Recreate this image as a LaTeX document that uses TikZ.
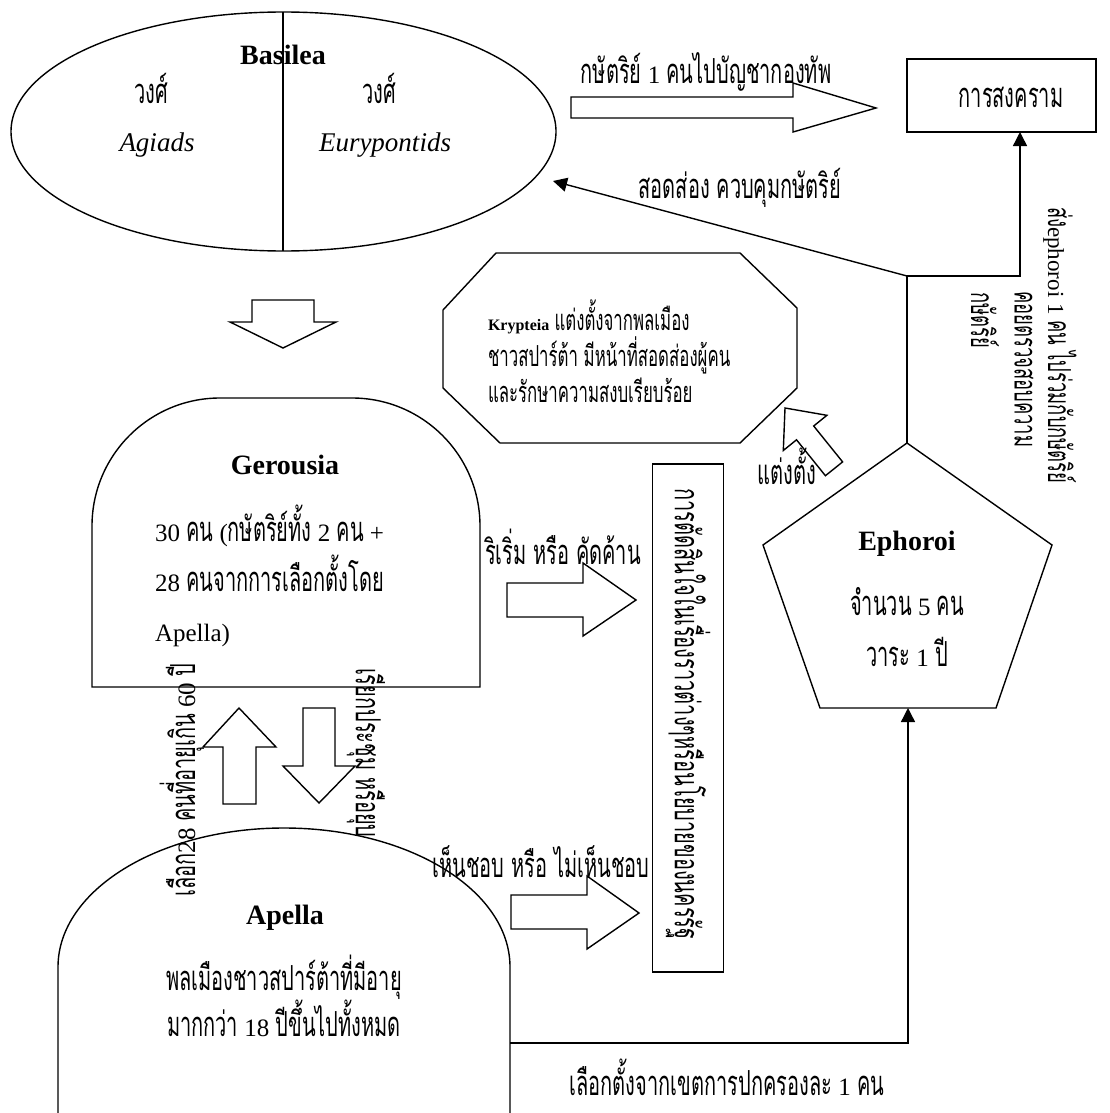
\documentclass[tikz,border=0pt]{standalone}
\usepackage{fontspec}
\setmainfont{Liberation Serif}
\newfontfamily\thf[Script=Thai,FakeStretch=0.58,Scale=1.38]{Loma}
\newcommand\T[1]{{\thf #1}}
\usetikzlibrary{arrows.meta}

\begin{document}
\begin{tikzpicture}[x=1pt,y=-1pt,
  every node/.style={inner sep=0pt, outer sep=0pt},
  shp/.style={draw, line width=1.4pt, fill=white, line join=miter},
  conn/.style={draw, line width=1.4pt},
  tip/.style={-{Triangle[length=14pt,width=14pt]}},
  txt/.style={font=\fontsize{25}{30}\selectfont},
  side/.style={font=\fontsize{23}{28}\selectfont},
  ital/.style={font=\fontsize{27}{30}\selectfont\itshape},
  big/.style={font=\fontsize{28}{32}\selectfont\bfseries},
]
\useasboundingbox (0,0) rectangle (1110,1113);

% ---------- Basilea ----------
\draw[shp] (283.5,131.5) ellipse [x radius=272.5pt, y radius=119.5pt];
\coordinate (bas-top) at (283,12);
\coordinate (bas-bot) at (283,251);
\coordinate (bas-in) at (553,181);
\node[big] (basilea) at (283,55) {Basilea};
\draw[conn] (bas-top) -- (bas-bot);
\node[txt] (wong1) at (151,88) {\T{วงศ์}};
\node[txt] (wong2) at (379,88) {\T{วงศ์}};
\node[ital] (agiads) at (157,145) {Agiads};
\node[ital] (eury) at (385,145) {Eurypontids};

% ---------- war ----------
\node[draw, line width=1.4pt, minimum width=189pt, minimum height=73pt] (war) at (1001.5,95.5) {};
\node[txt] (wartxt) at (1011,97) {\T{การสงคราม}};
\coordinate (war-in) at (1020,132);

% king leads the army
\draw[shp] (571,97) -- (793,97) -- (793,83) -- (876,108) -- (793,132) -- (793,118) -- (571,118) -- cycle;
\node[txt] (armylbl) at (706,72) {\T{กษัตริย์} 1 \T{คนไปบัญชากองทัพ}};

% ---------- Basilea -> Gerousia ----------
\draw[shp] (252,300) -- (314,300) -- (314,322) -- (336,322) -- (283,348) -- (230,322) -- (252,322) -- cycle;

% ---------- Krypteia ----------
\draw[shp] (496,253) -- (740,253) -- (797,308) -- (797,388) -- (740,443) -- (500,443) -- (443,388) -- (443,310) -- cycle;
\node[font=\fontsize{21}{36}\selectfont, align=left, anchor=west] (kry) at (488,351)
  {{\fontsize{16}{36}\selectfont\bfseries Krypteia} \T{แต่งตั้งจากพลเมือง}\\
   \T{ชาวสปาร์ต้า มีหน้าที่สอดส่องผู้คน}\\
   \T{และรักษาความสงบเรียบร้อย}};

% appoint arrow
\draw[shp] (785,408) -- (826.9,415.3) -- (813.7,426.0) -- (842.6,461.9) -- (825.4,475.7) -- (796.5,439.8) -- (783.3,450.5) -- cycle;
\node[txt] (appoint) at (787,466) {\T{แต่งตั้ง}};

% ---------- Ephoroi ----------
\draw[shp] (907,443) -- (1052,545) -- (996,708) -- (820,708) -- (763,545) -- cycle;
\coordinate (eph-top) at (907,443);
\coordinate (eph-bot) at (908,708);
\coordinate (junc) at (907,276);
\node[big] (ephoroi) at (907,544) {Ephoroi};
\node[txt] (eph1) at (907,602) {\T{จำนวน} 5 \T{คน}};
\node[txt] (eph2) at (907,652) {\T{วาระ} 1 \T{ปี}};

\draw[conn] (eph-top) -- (junc);
\draw[conn,tip] (junc) -- (bas-in);
\draw[conn,tip] (junc) -| (war-in);
\node[txt] (ctrl) at (740,188) {\T{สอดส่อง ควบคุมกษัตริย์}};
\node[side, rotate=-90, anchor=west] (send1) at (1060,207) {\T{ส่ง}ephoroi 1 \T{คน ไปร่วมกับกษัตริย์}};
\node[side, rotate=-90, anchor=west] (send2) at (1024,291) {\T{คอยตรวจสอบความ}};
\node[side, rotate=-90, anchor=west] (send3) at (985,292) {\T{กษัตริย์}};

% ---------- Gerousia ----------
\draw[shp] (92,687) -- (92,526) arc[start angle=180, end angle=90, radius=128pt]
  -- (352,398) arc[start angle=90, end angle=0, radius=128pt] -- (480,687) -- cycle;
\node[big] (gerousia) at (285,465) {Gerousia};
\node[font=\fontsize{25}{50}\selectfont, align=left, anchor=north west] (gerbody) at (155,505)
  {30 \T{คน} (\T{กษัตริย์ทั้ง} 2 \T{คน} +\\
   28 \T{คนจากการเลือกตั้งโดย}\\
   Apella)};

% ---------- decision box ----------
\node[draw, line width=1.4pt, minimum width=71pt, minimum height=508pt] (policy) at (688,718) {};
\node[txt, rotate=-90] (policytxt) at (688,714) {\T{การตัดสินใจในเรื่องราวต่างๆหรือนโยบายของนครรัฐ}};

% initiate / oppose
\draw[shp] (507,583) -- (583,583) -- (583,563) -- (636,600) -- (583,636) -- (583,617) -- (507,617) -- cycle;
\node[txt] (initlbl) at (563,547) {\T{ริเริ่ม หรือ คัดค้าน}};

% between Gerousia and Apella
\draw[shp] (223,804) -- (223,747) -- (203,747) -- (239,708) -- (276,747) -- (256,747) -- (256,804) -- cycle;
\draw[shp] (303,708) -- (335,708) -- (335,766) -- (355,766) -- (319,803) -- (283,766) -- (303,766) -- cycle;
\node[txt, rotate=90] (elect28) at (182,780) {\T{เลือก}28 \T{คนที่อายุเกิน} 60 \T{ปี}};
\node[txt, rotate=-90, anchor=west] (convene) at (366,668) {\T{เรียกประชุม หรือยุบ}};

% ---------- Apella ----------
\draw[conn] (58,1115) -- (58,967) arc[start angle=180, end angle=0, x radius=226pt, y radius=139pt] -- (510,1115);
\coordinate (apl-out) at (510,1043);
\node[big] (apella) at (285,918) {Apella};
\node[font=\fontsize{25}{46}\selectfont, align=center] (aplbody) at (284,996)
  {\T{พลเมืองชาวสปาร์ต้าที่มีอายุ}\\
   \T{มากกว่า} 18 \T{ปีขึ้นไปทั้งหมด}};

% approve / reject
\draw[shp] (511,895) -- (587,895) -- (587,876) -- (639,913) -- (587,949) -- (587,929) -- (511,929) -- cycle;
\node[txt] (approve) at (541,862) {\T{เห็นชอบ หรือ ไม่เห็นชอบ}};

% Apella elects the Ephoroi
\draw[conn,tip] (apl-out) -| (eph-bot);
\node[txt] (district) at (727,1077) {\T{เลือกตั้งจากเขตการปกครองละ} 1 \T{คน}};

\end{tikzpicture}
\end{document}
